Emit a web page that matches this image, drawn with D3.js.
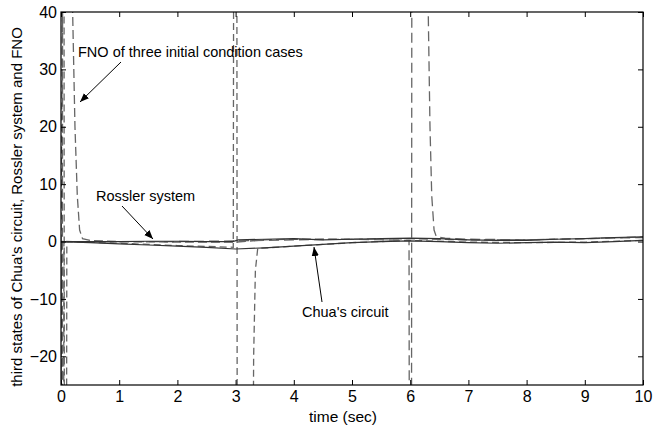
<!DOCTYPE html>
<meta charset="utf-8">
<head>
  <title>FNO, Chua and Rossler</title>
  <script src="https://cdn.jsdelivr.net/npm/d3@7"></script>
  <style>
    body { margin: 0; background: #fff; }
    text { font-family: Arial, "Liberation Sans", sans-serif; fill: #000; }
  </style>
</head>
<body>
<svg width="666" height="427"></svg>
<script>

  // axis ticks
  var xTicks = [0, 1, 2, 3, 4, 5, 6, 7, 8, 9, 10];
  var yTicks = [-20, -10, 0, 10, 20, 30, 40];

  // third state of the Rossler system (time, value)
  var rossler = [[0, 0], [0.5, 0], [1, 0], [1.5, 0.05], [2, 0.05], [2.5, 0], [2.95, 0],
                 [3.05, 0.3], [3.5, 0.4], [4, 0.5], [4.5, 0.3], [5, 0.4], [5.5, 0.5],
                 [6, 0.6], [6.5, 0.5], [7, 0.3], [7.5, 0.2], [8, 0.2], [8.5, 0.4],
                 [9, 0.5], [9.5, 0.7], [10, 0.8]];

  // third state of Chua's circuit
  var chua = [[0, 0], [0.5, -0.2], [1, -0.4], [1.5, -0.6], [2, -0.8], [2.5, -1.0],
              [3, -1.3], [3.5, -1.1], [4, -0.8], [4.5, -0.5], [5, -0.2], [5.5, 0],
              [6, 0.1], [6.5, 0], [7, -0.2], [7.5, -0.3], [8, -0.2], [8.5, -0.1],
              [9, -0.2], [9.5, 0], [10, 0.2]];

  // FNO for three initial condition cases
  var fno1 = [[0, 0], [0.02, -80], [0.03, 80], [0.17, 60], [0.2, 40], [0.24, 20],
              [0.28, 8], [0.32, 2], [0.37, 0.5], [0.5, 0.2], [1, 0], [2, -0.1],
              [3, -0.1], [3.5, 0.3], [4, 0.4], [5, 0.4], [6, 0.5], [7, 0.3],
              [8, 0.3], [9, 0.5], [10, 0.8]];
  var fno2 = [[0, 0], [0.05, 80], [0.06, -80], [0.09, -80], [0.1, 0], [1, -0.3],
              [2, -0.7], [2.96, -1], [2.97, 80], [3.02, 80], [3.03, -80], [3.28, -80],
              [3.31, -20], [3.34, -5], [3.38, -1.2], [4, -0.8], [5, -0.2], [6, 0.2],
              [7, -0.1], [8, -0.2], [9, -0.1], [10, 0.2]];
  var fno3 = [[0, 0], [0.01, -80], [0.04, -80], [0.05, 0], [1, 0], [2, 0],
              [3, 0.1], [4, 0.3], [5, 0.4], [5.98, 0.2], [5.99, -80], [6.02, -80],
              [6.03, 80], [6.28, 60], [6.31, 40], [6.34, 20], [6.37, 8], [6.41, 2],
              [6.45, 0.8], [6.6, 0.6], [7, 0.4], [8, 0.3], [9, 0.5], [10, 0.7]];

  var svg = d3.select("svg");
  var padL = 61, padR = 643, padT = 12, padB = 385;

  var x = d3.scaleLinear().domain([0, 10]).range([padL, padR]);
  var y = d3.scaleLinear().domain([-25, 40]).range([padB, padT]);

  svg.append("clipPath")
      .attr("id", "plot")
    .append("rect")
      .attr("x", padL)
      .attr("y", padT)
      .attr("width", padR - padL)
      .attr("height", padB - padT);

  var line = d3.line()
    .x(function(d) { return x(d[0]); })
    .y(function(d) { return y(d[1]); });

  var curves = svg.append("g").attr("clip-path", "url(#plot)");

  curves.selectAll("path.fno")
      .data([fno1, fno2, fno3])
    .enter()
      .append("path")
      .attr("class", "fno")
      .attr("d", line)
      .attr("fill", "none")
      .attr("stroke", "#666")
      .attr("stroke-width", 1.3)
      .attr("stroke-dasharray", function(d, i) { return ["9,4", "7,4", "10,5"][i]; });

  curves.selectAll("path.sys")
      .data([rossler, chua])
    .enter()
      .append("path")
      .attr("class", "sys")
      .attr("d", line)
      .attr("fill", "none")
      .attr("stroke", "#333")
      .attr("stroke-width", 1.2);

  // axes, MATLAB style: ticks pointing in, box all round
  svg.append("g")
      .attr("transform", "translate(0," + padB + ")")
      .call(d3.axisBottom(x).tickValues(xTicks).tickSizeInner(-5).tickSizeOuter(0).tickPadding(6))
      .call(function(g) { g.select(".domain").remove(); });

  svg.append("g")
      .attr("transform", "translate(0," + padT + ")")
      .call(d3.axisTop(x).tickValues(xTicks).tickSizeInner(-5).tickSizeOuter(0).tickFormat(""))
      .call(function(g) { g.select(".domain").remove(); });

  svg.append("g")
      .attr("transform", "translate(" + padL + ",0)")
      .call(d3.axisLeft(y).tickValues(yTicks).tickSizeInner(-5).tickSizeOuter(0).tickPadding(4))
      .call(function(g) { g.select(".domain").remove(); });

  svg.append("g")
      .attr("transform", "translate(" + padR + ",0)")
      .call(d3.axisRight(y).tickValues(yTicks).tickSizeInner(-5).tickSizeOuter(0).tickFormat(""))
      .call(function(g) { g.select(".domain").remove(); });

  svg.selectAll(".tick text")
      .style("font-size", "16px")
      .style("font-family", "Arial, 'Liberation Sans', sans-serif");
  svg.selectAll(".tick line").attr("stroke", "#000");

  svg.append("rect")
      .attr("x", padL)
      .attr("y", padT)
      .attr("width", padR - padL)
      .attr("height", padB - padT)
      .attr("fill", "none")
      .attr("stroke", "#000")
      .attr("stroke-width", 1.2);

  // labels
  svg.append("text")
      .attr("x", 343)
      .attr("y", 422)
      .attr("text-anchor", "middle")
      .style("font-size", "15.5px")
      .text("time (sec)");

  svg.append("text")
      .attr("transform", "translate(22," + 207 + ") rotate(-90)")
      .attr("text-anchor", "middle")
      .style("font-size", "15px")
      .text("third states of Chua's circuit, Rossler system and FNO");

  // annotations with arrows
  svg.append("defs").append("marker")
      .attr("id", "head")
      .attr("viewBox", "0 0 10 10")
      .attr("refX", 10)
      .attr("refY", 5)
      .attr("markerWidth", 9)
      .attr("markerHeight", 9)
      .attr("orient", "auto")
    .append("path")
      .attr("d", "M0,1 L10,5 L0,9 z")
      .attr("fill", "#000");

  var notes = [
    { t: "FNO of three initial condition cases", tx: 78, ty: 57, from: [121, 62], to: [80, 102] },
    { t: "Rossler system", tx: 96, ty: 201, from: [122, 206], to: [153, 239] },
    { t: "Chua's circuit", tx: 302, ty: 317, from: [322, 302], to: [314, 247] }
  ];

  notes.forEach(function(n) {
    svg.append("text")
        .attr("x", n.tx)
        .attr("y", n.ty)
        .style("font-size", "14.5px")
        .text(n.t);
    svg.append("line")
        .attr("x1", n.from[0]).attr("y1", n.from[1])
        .attr("x2", n.to[0]).attr("y2", n.to[1])
        .attr("stroke", "#000")
        .attr("stroke-width", 1)
        .attr("marker-end", "url(#head)");
  });

</script>
</body>
</html>
